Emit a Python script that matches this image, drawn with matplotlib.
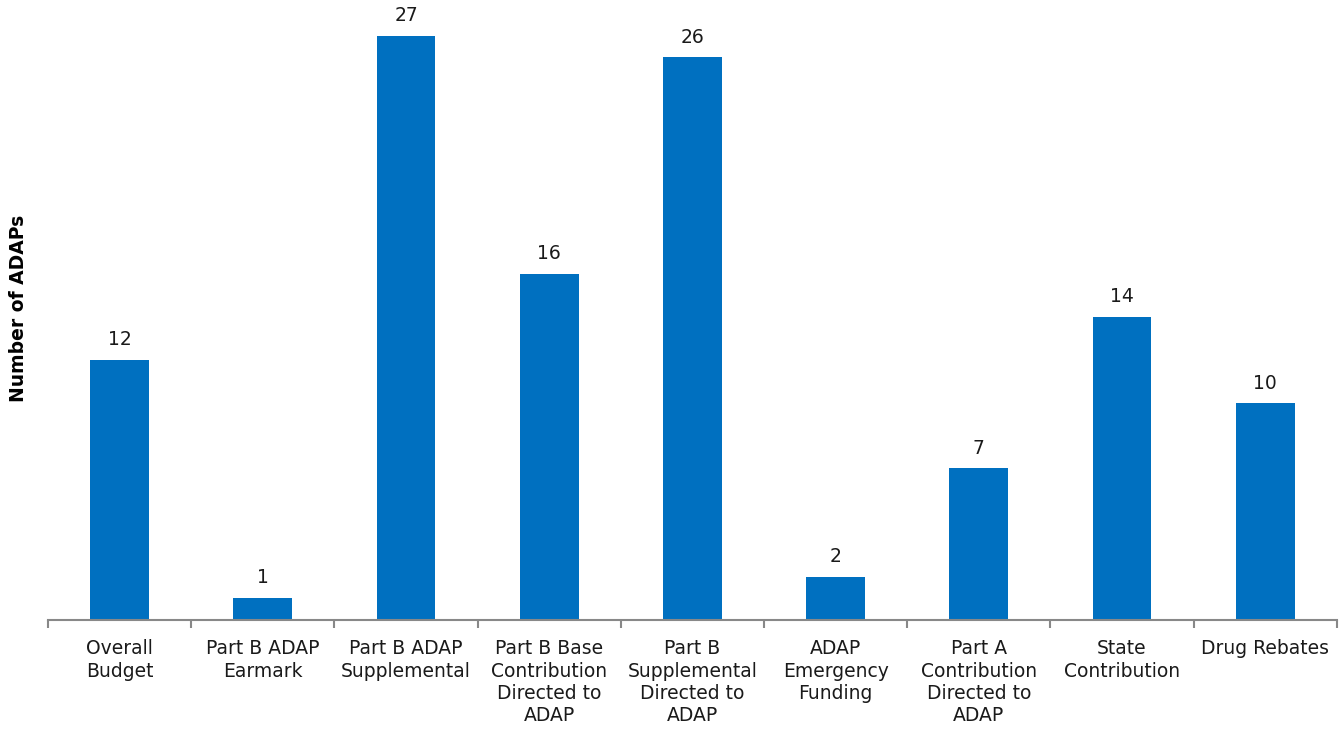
import numpy as np
import matplotlib
matplotlib.use('Agg')
import matplotlib.pyplot as plt

categories = ["Overall\nBudget", "Part B ADAP\nEarmark", "Part B ADAP\nSupplemental",
              "Part B Base\nContribution\nDirected to\nADAP", "Part B\nSupplemental\nDirected to\nADAP",
              "ADAP\nEmergency\nFunding", "Part A\nContribution\nDirected to\nADAP",
              "State\nContribution", "Drug Rebates"]
values = [12, 1, 27, 16, 26, 2, 7, 14, 10]

plt.rcParams['font.family'] = ['DejaVu Sans']

fig = plt.figure(figsize=(13.44, 7.30), dpi=100)
ax = fig.add_axes([0.0357, 0.151, 0.959, 0.843])

x = np.arange(len(values))
bars = ax.bar(x, values, width=0.41, color='#0070C0')
for xi, v in zip(x, values):
    ax.text(xi, v + 0.5, str(v), ha='center', va='bottom', fontsize=13.5, color='#1a1a1a')

ax.set_xlim(-0.5, len(values) - 0.5)
ax.set_ylim(0, 28.45)
ax.set_xticks(x)
ax.set_xticklabels(categories, fontsize=13.5, color='#1a1a1a', linespacing=1.22, va='top')
ax.tick_params(axis='x', which='major', length=0, pad=14)
ax.set_xticks(np.arange(len(values) + 1) - 0.5, minor=True)
ax.tick_params(axis='x', which='minor', length=6, width=1.5, color='#888888', direction='out')
ax.set_yticks([])
for s in ['top', 'right', 'left']:
    ax.spines[s].set_visible(False)
ax.spines['bottom'].set_color('#888888')
ax.spines['bottom'].set_linewidth(1.5)

fig.text(0.014, 0.577, 'Number of ADAPs', rotation=90, ha='center', va='center',
         fontsize=13.5, fontweight='bold')

fig.savefig('out.png', dpi=100)
